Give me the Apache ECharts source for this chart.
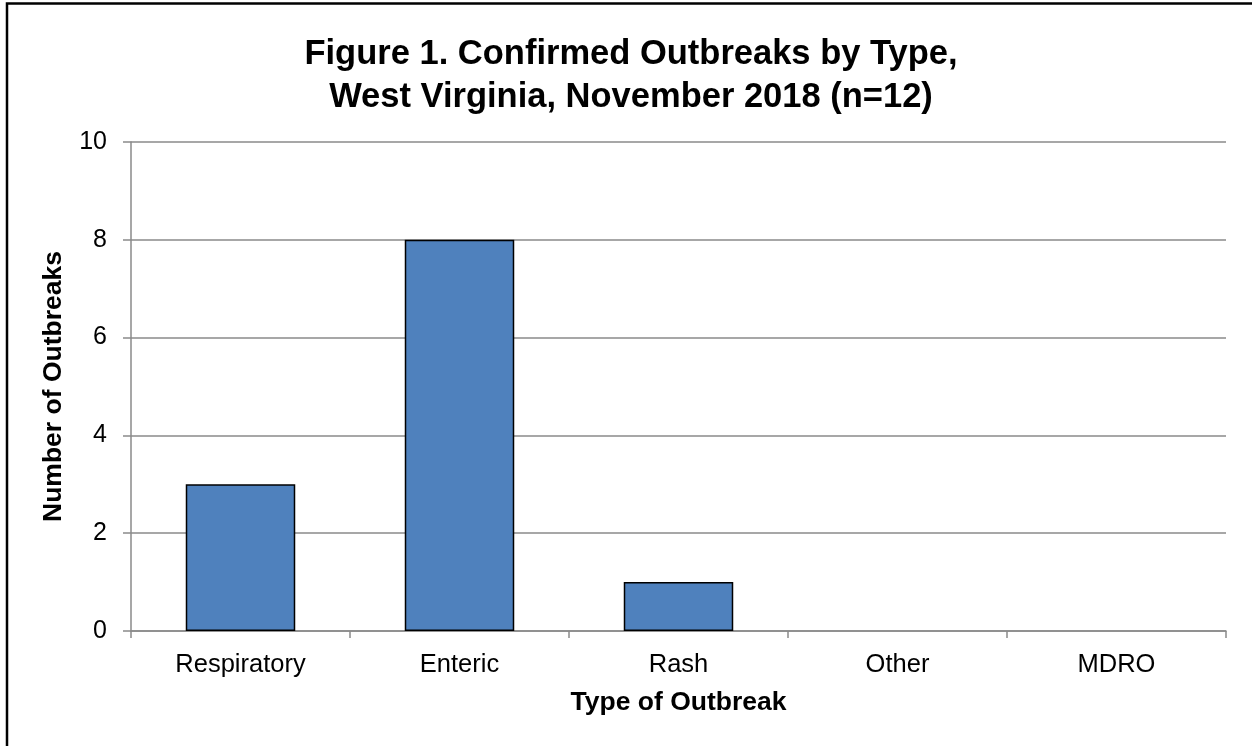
<!DOCTYPE html>
<html>
<head>
<meta charset="utf-8">
<script src="https://cdn.jsdelivr.net/npm/echarts@6/dist/echarts.min.js"></script>
<style>
html,body{margin:0;padding:0;background:#fff;}
#chart{width:1252px;height:746px;}
</style>
</head>
<body>
<div id="chart"></div>
<script>
const categories = ['Respiratory', 'Enteric', 'Rash', 'Other', 'MDRO'];
const outbreaks = [3, 8, 1, 0, 0];
const titleLines = ['Figure 1. Confirmed Outbreaks by Type,', 'West Virginia, November 2018 (n=12)'];

const chart = echarts.init(document.getElementById('chart'));
const axisGray = '#8a8a8a';
const FONT = 'Liberation Sans, Arial, sans-serif';
chart.setOption({
  animation: false,
  backgroundColor: '#fff',
  textStyle: { fontFamily: FONT },
  title: {
    text: titleLines.join('\n'),
    left: 626, top: 28, textAlign: 'center',
    textStyle: { fontSize: 34.5, fontWeight: 'bold', color: '#000', lineHeight: 43, fontFamily: FONT }
  },
  graphic: [{
    type: 'rect', shape: { x: 7, y: 3.5, width: 1400, height: 900 },
    style: { fill: 'none', stroke: '#000', lineWidth: 2.5 }, silent: true
  }],
  grid: { left: 131, right: 26, top: 142, bottom: 115 },
  xAxis: {
    type: 'category', data: categories,
    name: 'Type of Outbreak', nameLocation: 'middle', nameGap: 58,
    nameTextStyle: { fontSize: 26.5, fontWeight: 'bold', color: '#000' },
    axisLine: { lineStyle: { color: axisGray, width: 1.5 } },
    axisTick: { show: true, length: 7, lineStyle: { color: axisGray, width: 1.5 } },
    axisLabel: { fontSize: 25.5, color: '#000', margin: 21 }
  },
  yAxis: {
    type: 'value', min: 0, max: 10, interval: 2,
    name: 'Number of Outbreaks', nameLocation: 'middle', nameGap: 64, nameRotate: 90,
    nameTextStyle: { fontSize: 26.5, fontWeight: 'bold', color: '#000' },
    axisLine: { show: true, lineStyle: { color: axisGray, width: 1.5 } },
    axisTick: { show: true, length: 8, lineStyle: { color: axisGray, width: 1.5 } },
    axisLabel: { fontSize: 25, color: '#000', margin: 24 },
    splitLine: { show: true, lineStyle: { color: axisGray, width: 1.5 } }
  },
  series: [{
    type: 'bar', barWidth: '50%', z: 3,
    data: outbreaks.map(v => v === 0 ? { value: v, itemStyle: { borderWidth: 0 } } : v),
    itemStyle: { color: '#4f81bd', borderColor: '#000', borderWidth: 1.5 }
  }]
});
</script>
</body>
</html>
